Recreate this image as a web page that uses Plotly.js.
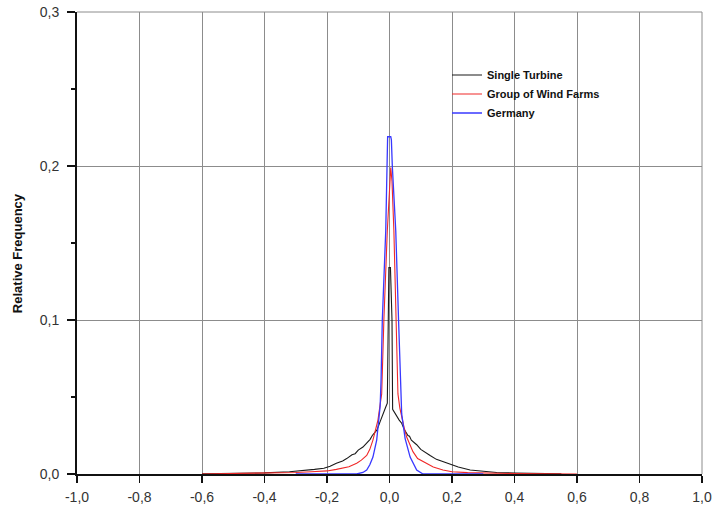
<!DOCTYPE html>
<html>
<head>
<meta charset="utf-8">
<script src="https://cdn.plot.ly/plotly-3.0.1.min.js"></script>
<style>html,body{margin:0;padding:0;background:#fff;}#chart{width:713px;height:509px;}</style>
</head>
<body>
<div id="chart"></div>
<script>
// Single Turbine
var turbineX = [-0.6, -0.5, -0.4, -0.32, -0.28, -0.24, -0.21, -0.19, -0.17, -0.16, -0.15, -0.137, -0.12, -0.11, -0.10, -0.085, -0.07, -0.062, -0.055, -0.04, -0.03, -0.021, -0.012, -0.007, -0.005, -0.002, 0.003, 0.008, 0.010, 0.016, 0.023, 0.031, 0.039, 0.047, 0.059, 0.064, 0.07, 0.08, 0.087, 0.1, 0.115, 0.13, 0.15, 0.171, 0.194, 0.22, 0.258, 0.3, 0.343, 0.4, 0.5, 0.55];
var turbineY = [0.0001, 0.0003, 0.0007, 0.0015, 0.0021, 0.003, 0.0037, 0.005, 0.007, 0.0075, 0.0085, 0.010, 0.0125, 0.0132, 0.0155, 0.0175, 0.021, 0.0225, 0.025, 0.0286, 0.034, 0.0395, 0.0435, 0.046, 0.10, 0.134, 0.134, 0.10, 0.042, 0.040, 0.037, 0.035, 0.033, 0.029, 0.025, 0.0245, 0.022, 0.0205, 0.019, 0.016, 0.0138, 0.012, 0.0095, 0.008, 0.006, 0.0045, 0.0026, 0.0018, 0.001, 0.0006, 0.0003, 0.0001];

// Group of Wind Farms
var farmsX = [-0.6, -0.5, -0.4, -0.3, -0.25, -0.2, -0.17, -0.149, -0.13, -0.105, -0.09, -0.073, -0.063, -0.053, -0.045, -0.037, -0.03, -0.025, -0.018, -0.007, 0.004, 0.008, 0.014, 0.021, 0.027, 0.033, 0.039, 0.047, 0.055, 0.065, 0.075, 0.09, 0.105, 0.119, 0.14, 0.171, 0.2, 0.25, 0.3, 0.4, 0.5, 0.6];
var farmsY = [0.0, 0.0003, 0.0005, 0.001, 0.0015, 0.002, 0.003, 0.004, 0.0047, 0.007, 0.009, 0.012, 0.016, 0.022, 0.028, 0.035, 0.045, 0.052, 0.1, 0.158, 0.199, 0.19, 0.158, 0.1, 0.052, 0.043, 0.037, 0.03, 0.024, 0.019, 0.0145, 0.01, 0.0085, 0.007, 0.0045, 0.0026, 0.0015, 0.0009, 0.0006, 0.0003, 0.0002, 0.0];

// Germany
var germanyX = [-0.3, -0.2, -0.105, -0.085, -0.073, -0.063, -0.053, -0.041, -0.030, -0.027, -0.023, -0.012, -0.006, 0.004, 0.006, 0.009, 0.02, 0.029, 0.034, 0.039, 0.05, 0.066, 0.087, 0.107, 0.2, 0.3];
var germanyY = [0.0, 0.0, 0.0, 0.001, 0.0026, 0.006, 0.011, 0.022, 0.044, 0.061, 0.1, 0.158, 0.219, 0.219, 0.217, 0.2, 0.158, 0.1, 0.06, 0.039, 0.023, 0.011, 0.0026, 0.0, 0.0, 0.0];

var seriesNames = ["Single Turbine", "Group of Wind Farms", "Germany"];
var yAxisTitle = "Relative Frequency";

var xTickVals = [-1.0, -0.8, -0.6, -0.4, -0.2, 0.0, 0.2, 0.4, 0.6, 0.8, 1.0];
var xTickText = ["-1,0", "-0,8", "-0,6", "-0,4", "-0,2", "0,0", "0,2", "0,4", "0,6", "0,8", "1,0"];
var yTickVals = [0.0, 0.1, 0.2, 0.3];
var yTickText = ["0,0", "0,1", "0,2", "0,3"];
var yMinorTickVals = [0.05, 0.15, 0.25];

var traces = [
  {x: turbineX, y: turbineY, name: seriesNames[0], type: 'scatter', mode: 'lines',
   line: {color: '#1a1a1a', width: 1.1}},
  {x: farmsX, y: farmsY, name: seriesNames[1], type: 'scatter', mode: 'lines',
   line: {color: '#f02828', width: 1.1}},
  {x: germanyX, y: germanyY, name: seriesNames[2], type: 'scatter', mode: 'lines',
   line: {color: '#3838ff', width: 1.3}}
];

var layout = {
  width: 713, height: 509,
  margin: {l: 77, r: 11, t: 12, b: 35},
  paper_bgcolor: '#ffffff', plot_bgcolor: '#ffffff',
  font: {family: 'Liberation Sans, Arial, sans-serif', color: '#333333', size: 12},
  showlegend: true,
  legend: {x: 0.592, y: 0.895, xanchor: 'left', yanchor: 'top',
           bgcolor: 'rgba(0,0,0,0)', borderwidth: 0,
           font: {family: 'Liberation Sans, Arial, sans-serif', size: 11, color: '#111111', weight: 'bold'},
           tracegroupgap: 0},
  xaxis: {range: [-1.0, 1.0], tickmode: 'array', tickvals: xTickVals, ticktext: xTickText,
          showgrid: true, gridcolor: '#8c8c8c', gridwidth: 1, zeroline: false,
          showline: true, linecolor: '#111111', linewidth: 2,
          ticks: 'outside', ticklen: 7, tickwidth: 1.5, tickcolor: '#111111',
          ticklabelstandoff: 2,
          tickfont: {size: 14, color: '#333333'}, fixedrange: true},
  yaxis: {range: [0, 0.3], tickmode: 'array', tickvals: yTickVals, ticktext: yTickText,
          showgrid: true, gridcolor: '#8c8c8c', gridwidth: 1, zeroline: false,
          showline: true, linecolor: '#111111', linewidth: 2,
          ticks: 'outside', ticklen: 8, tickwidth: 1.5, tickcolor: '#111111',
          ticklabelstandoff: 5,
          minor: {tickmode: 'array', tickvals: yMinorTickVals, ticks: 'outside', ticklen: 4,
                  tickwidth: 1.2, tickcolor: '#111111', showgrid: false},
          tickfont: {size: 14, color: '#333333'}, fixedrange: true},
  annotations: [
    {text: yAxisTitle, xref: 'paper', yref: 'paper', x: -0.096, y: 0.478,
     xanchor: 'center', yanchor: 'middle', textangle: -90, showarrow: false,
     font: {size: 13, color: '#111111', weight: 'bold'}}
  ],
  shapes: [
    {type: 'line', xref: 'paper', yref: 'paper', x0: 0, x1: 1, y0: 1, y1: 1,
     line: {color: '#8c8c8c', width: 1}},
    {type: 'line', xref: 'paper', yref: 'paper', x0: 1, x1: 1, y0: 0, y1: 1,
     line: {color: '#8c8c8c', width: 1}}
  ]
};

Plotly.newPlot('chart', traces, layout, {displayModeBar: false, staticPlot: true});
</script>
</body>
</html>
